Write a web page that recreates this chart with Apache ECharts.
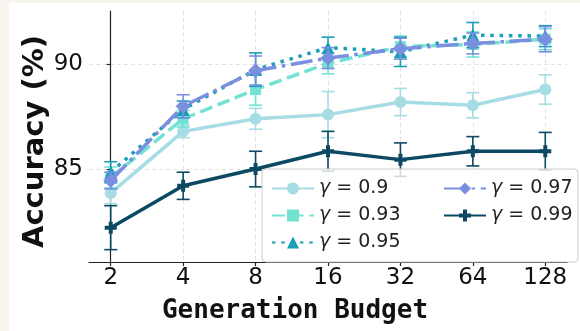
<!DOCTYPE html>
<html><head><meta charset="utf-8">
<script src="https://cdn.jsdelivr.net/npm/echarts@6/dist/echarts.min.js"></script>
<style>
html,body{margin:0;padding:0;background:#f8f5f0;}
#wrap{position:relative;width:580px;height:331px;background:#f8f5f0;overflow:hidden;}
#chart{position:absolute;left:9px;top:3px;width:571px;height:328px;background:#fff;}
</style></head>
<body><div id="wrap"><div id="chart"></div></div>
<script>
const budgets = ['2','4','8','16','32','64','128'];
const yTicks = [85, 90];
const names = ['γ = 0.9','γ = 0.93','γ = 0.95','γ = 0.97','γ = 0.99'];
const acc090 = [83.85, 86.8, 87.4, 87.6, 88.2, 88.05, 88.8];
const err090 = [0.5, 0.3, 0.5, 1.1, 0.65, 0.6, 0.7];
const acc093 = [84.6, 87.4, 88.8, 90.05, 90.85, 90.95, 91.2];
const err093 = [0.5, 0.4, 0.75, 0.5, 0.5, 0.6, 0.5];
const acc095 = [84.85, 87.85, 89.75, 90.8, 90.6, 91.4, 91.35];
const err095 = [0.5, 0.4, 0.8, 0.5, 0.7, 0.6, 0.5];
const acc097 = [84.45, 88.0, 89.7, 90.3, 90.75, 91.0, 91.2];
const err097 = [0.4, 0.55, 0.7, 0.5, 0.5, 0.5, 0.6];
const acc099 = [82.2, 84.2, 85.0, 85.85, 85.45, 85.85, 85.85];
const err099 = [1.05, 0.65, 0.85, 0.95, 0.8, 0.7, 0.9];

const accs = [acc090, acc093, acc095, acc097, acc099];
const errs = [err090, err093, err095, err097, err099];
const colors = ['#a6dce3', '#72e3d3', '#1b9fb6', '#7b8fe0', '#0c4a63'];
const plusPath = 'path://M-1,-3L1,-3L1,-1L3,-1L3,1L1,1L1,3L-1,3L-1,1L-3,1L-3,-1L-1,-1Z';
const symbols = ['circle', 'rect', 'triangle', 'diamond', plusPath];
const symSizes = [12, 11, 13, 15, 12];
const lineTypes = ['solid', [13, 5.6], [3.5, 5.8], [22, 5.6, 3.5, 5.6], 'solid'];

const series = [];
names.forEach((n, i) => {
  series.push({
    name: n, type: 'line', z: 10 + i * 2,
    data: accs[i].map((v, k) => [k, v]),
    symbol: symbols[i], symbolSize: symSizes[i],
    lineStyle: {color: colors[i], width: 3.5, type: lineTypes[i]},
    itemStyle: {color: colors[i]},
    emphasis: {disabled: true}, animation: false
  });
});
names.forEach((n, i) => {
  series.push({
    name: 'err' + i, type: 'custom', z: 9 + i * 2,
    data: accs[i].map((v, k) => [k, v, errs[i][k]]),
    renderItem: function (params, api) {
      const x = api.value(0), y = api.value(1), e = api.value(2);
      const t = api.coord([x, y + e]), b = api.coord([x, y - e]);
      const cw = 6.5;
      const st = {stroke: colors[i], lineWidth: 1.6};
      return {type: 'group', children: [
        {type: 'line', shape: {x1: t[0], y1: t[1], x2: b[0], y2: b[1]}, style: st},
        {type: 'line', shape: {x1: t[0]-cw, y1: t[1], x2: t[0]+cw, y2: t[1]}, style: st},
        {type: 'line', shape: {x1: b[0]-cw, y1: b[1], x2: b[0]+cw, y2: b[1]}, style: st}
      ]};
    },
    animation: false, silent: true
  });
});

const legendText = {fontFamily: 'DejaVu Sans', fontSize: 19, color: '#222',
  rich: {g: {fontFamily: 'DejaVu Sans', fontSize: 19, fontStyle: 'italic', color: '#222'},
         t: {fontFamily: 'DejaVu Sans', fontSize: 19, color: '#222'}}};
const legendFmt = n => '{g|γ}{t|' + n.slice(1) + '}';
const option = {
  animation: false,
  grid: {left: 80, top: 8, right: 13, bottom: 69},
  xAxis: {
    type: 'value', min: -0.3, max: 6.3,
    axisLine: {show: true, lineStyle: {color: '#222', width: 1.2}},
    axisTick: {show: true, customValues: [0,1,2,3,4,5,6], length: 4, lineStyle: {color: '#222', width: 1.2}},
    axisLabel: {customValues: [0,1,2,3,4,5,6], formatter: v => budgets[Math.round(v)],
      fontFamily: 'DejaVu Sans', fontSize: 23, color: '#111', margin: 5},
    splitLine: {show: true, lineStyle: {color: '#e3e3e3', width: 1, type: [4, 3]}}
  },
  yAxis: {
    type: 'value', min: 80.56, max: 92.55,
    axisLine: {show: true, lineStyle: {color: '#222', width: 1.2}},
    axisTick: {show: true, customValues: yTicks, length: 4, lineStyle: {color: '#222', width: 1.2}},
    axisLabel: {customValues: yTicks, fontFamily: 'DejaVu Sans', fontSize: 23, color: '#111', margin: 6},
    splitLine: {show: true, lineStyle: {color: '#e3e3e3', width: 1, type: [4, 3]}}
  },
  legend: [
    {data: names.slice(0, 3), orient: 'vertical', left: 257, top: 171, itemWidth: 42, itemHeight: 15,
     itemGap: 8, textStyle: legendText, formatter: legendFmt, z: 30},
    {data: names.slice(3), orient: 'vertical', left: 429, top: 171, itemWidth: 42, itemHeight: 15,
     itemGap: 8, textStyle: legendText, formatter: legendFmt, z: 30}
  ],
  graphic: [
    {type: 'rect', z: 25, shape: {x: 253, y: 166, width: 316, height: 93, r: 4},
     style: {fill: 'rgba(255,255,255,0.8)', stroke: '#cccccc', lineWidth: 1}},
    {type: 'text', x: 286, y: 308.5, style: {text: 'Generation Budget', fontFamily: 'DejaVu Sans Mono',
     fontWeight: 'bold', fontSize: 26, fill: '#111', textAlign: 'center', textVerticalAlign: 'middle'}},
    {type: 'text', x: 26, y: 138.5, rotation: Math.PI / 2, style: {text: 'Accuracy (%)', fontFamily: 'DejaVu Sans',
     fontWeight: 'bold', fontSize: 29, fill: '#111', textAlign: 'center', textVerticalAlign: 'middle'}}
  ],
  series: series
};
const chart = echarts.init(document.getElementById('chart'), null, {renderer: 'canvas'});
chart.setOption(option);
</script></body></html>
